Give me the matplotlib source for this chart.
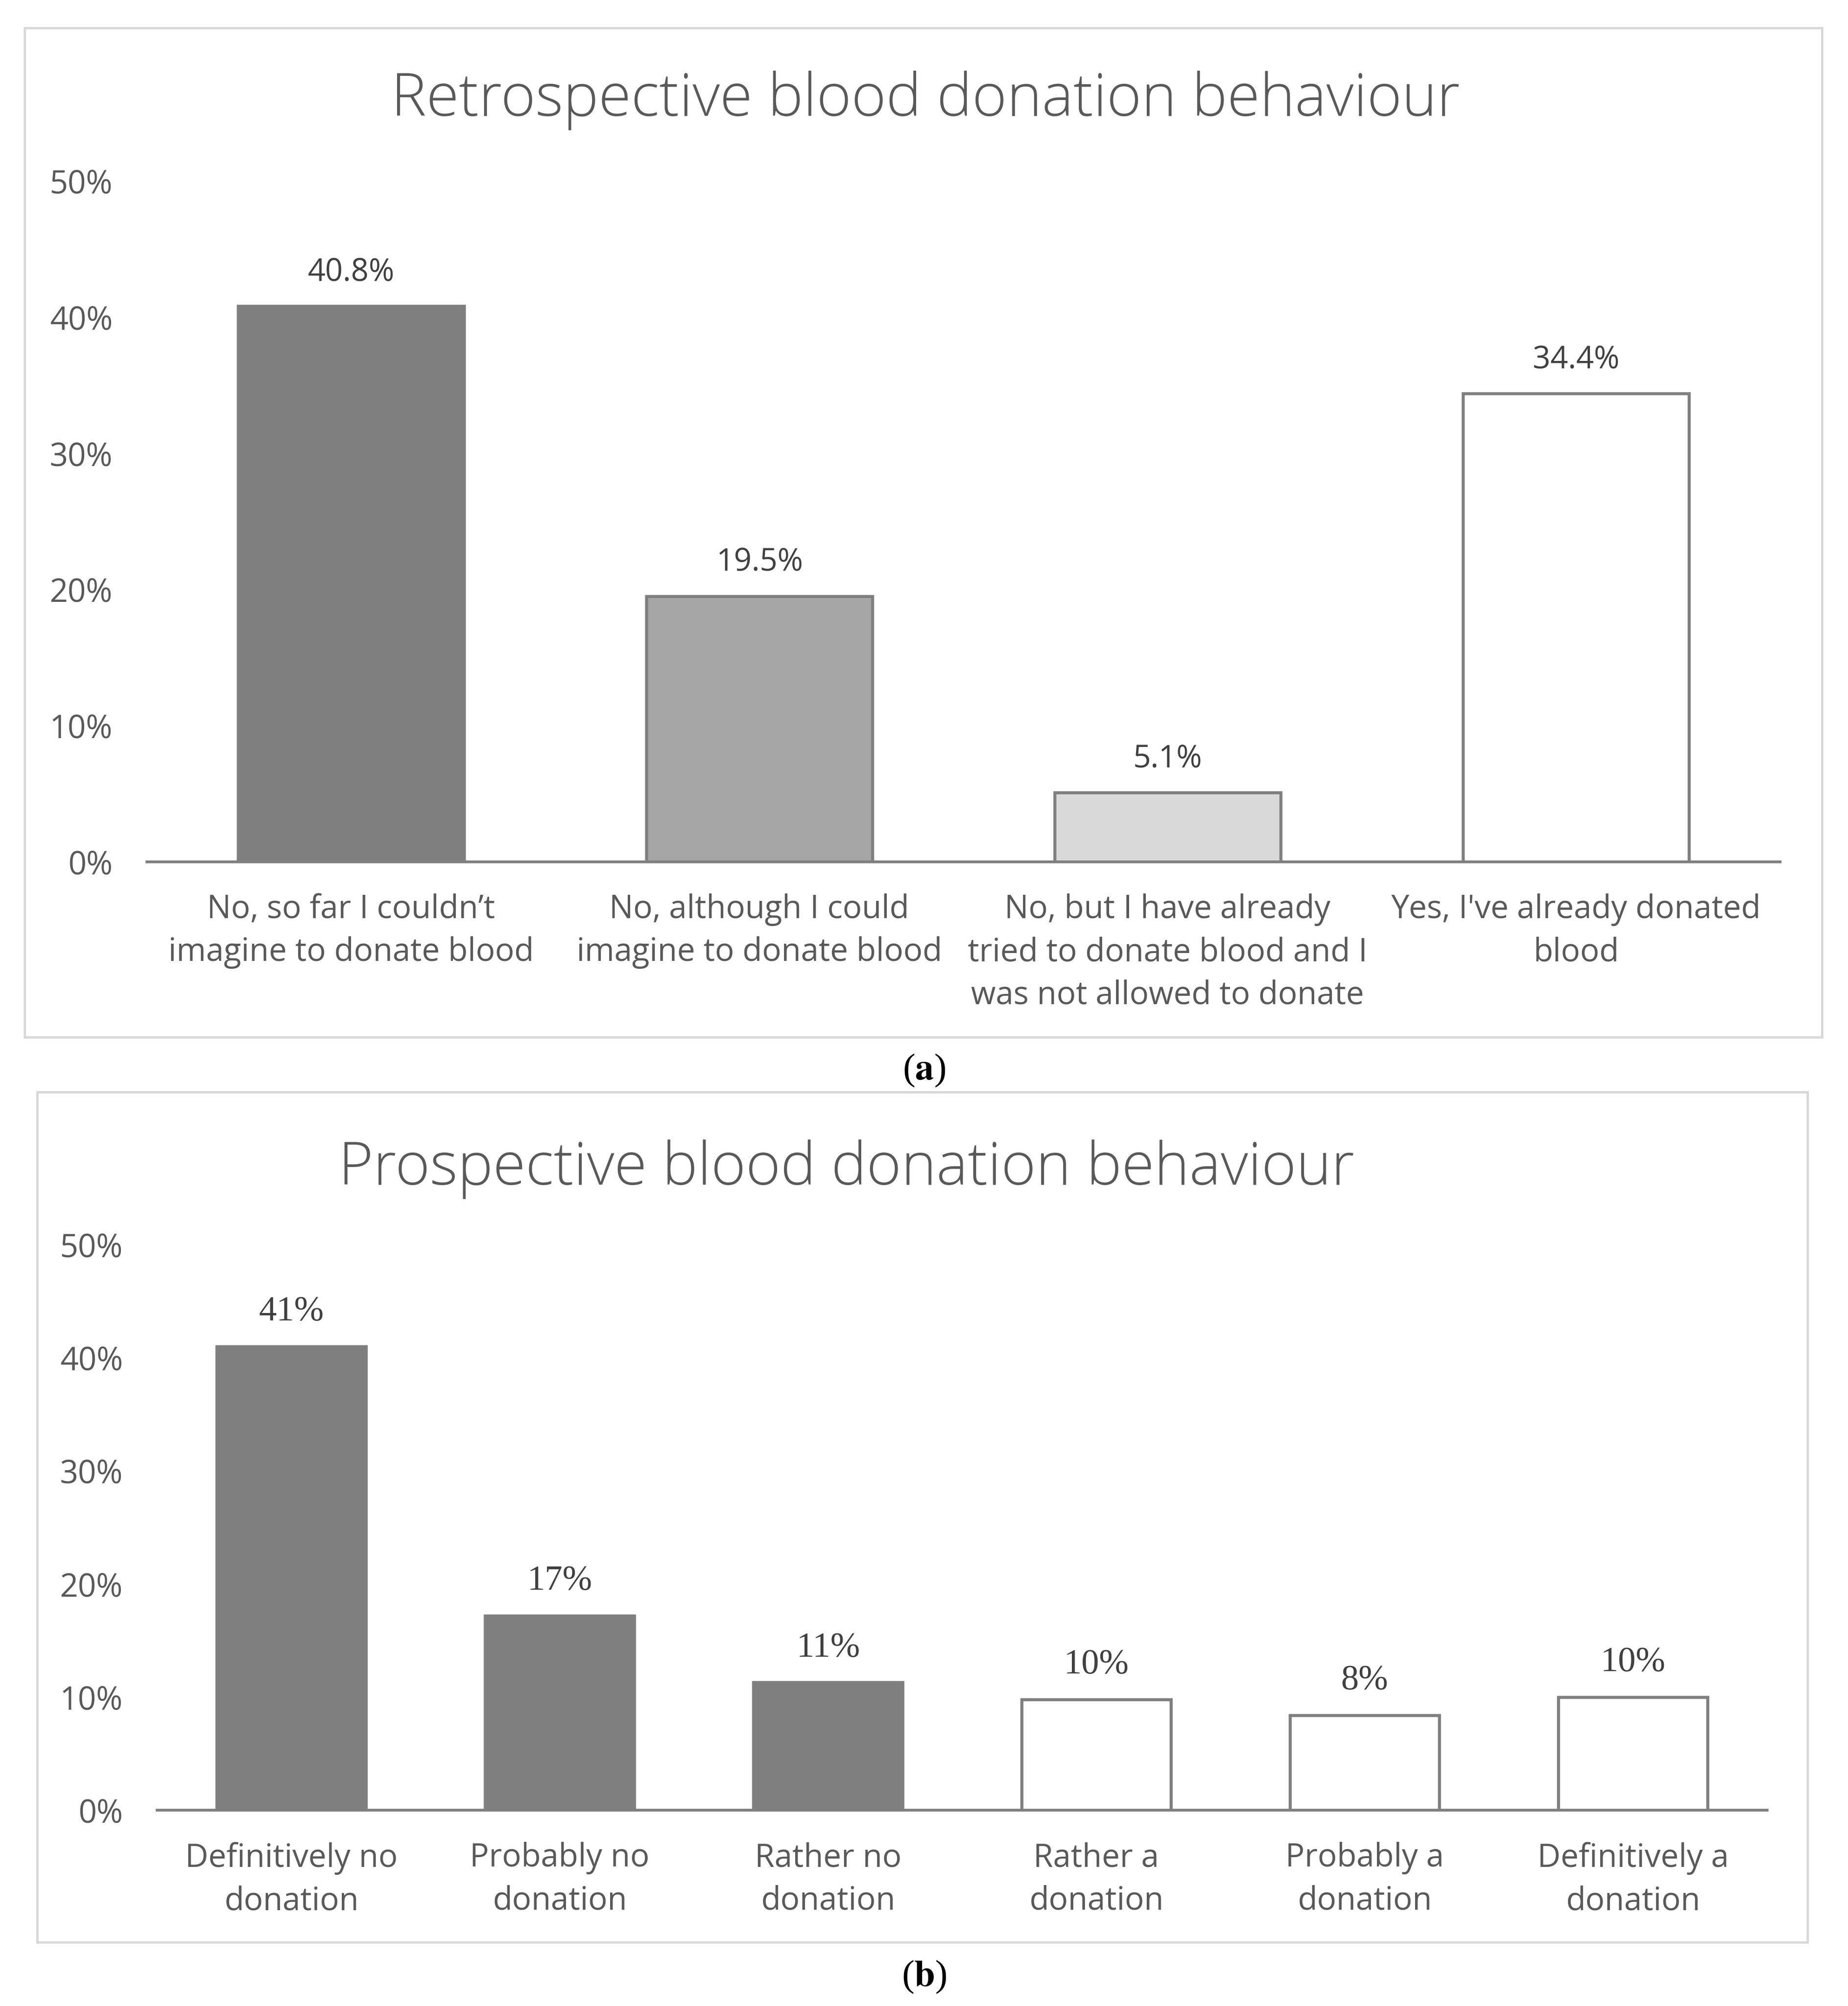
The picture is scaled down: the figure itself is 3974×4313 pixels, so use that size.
#!/usr/bin/env python3
"""Retrospective / prospective blood donation behaviour -- two bar panels (a) and (b)."""

import matplotlib

matplotlib.use("Agg")
import matplotlib.pyplot as plt
from matplotlib.patches import Rectangle

plt.rcParams["font.family"] = ["Open Sans", "DejaVu Sans"]
plt.rcParams["mathtext.fontset"] = "stix"

# ---- data -------------------------------------------------------------------
retro_labels = [
    "No, so far I couldn\u2019t\nimagine to donate blood",
    "No, although I could\nimagine to donate blood",
    "No, but I have already\ntried to donate blood and I\nwas not allowed to donate",
    "Yes, I've already donated\nblood",
]
retro_values = [40.8, 19.5, 5.1, 34.4]
retro_colors = ["#7f7f7f", "#a5a5a5", "#d9d9d9", "#ffffff"]

prosp_labels = [
    "Definitively no\ndonation",
    "Probably no\ndonation",
    "Rather no\ndonation",
    "Rather a\ndonation",
    "Probably a\ndonation",
    "Definitively a\ndonation",
]
prosp_values = [41.0, 17.2, 11.3, 9.8, 8.4, 10.0]
prosp_text = ["41%", "17%", "11%", "10%", "8%", "10%"]
prosp_colors = ["#7f7f7f", "#7f7f7f", "#7f7f7f", "#ffffff", "#ffffff", "#ffffff"]

y_ticks = [0, 10, 20, 30, 40, 50]

# ---- layout helpers (pixel coords, origin top-left) -------------------------
W, H = 3974, 4313
TXT = "#595959"
EDGE = "#7f7f7f"
LBL = 49.5


def fx(x):
    return x / W


def fy(y):
    return 1 - y / H


def add_axes(left, right, top, bottom):
    return fig.add_axes([fx(left), fy(bottom), (right - left) / W, (bottom - top) / H])


def frame(left, right, top, bottom):
    fig.add_artist(Rectangle((fx(left), fy(bottom)), (right - left) / W, (bottom - top) / H,
                             transform=fig.transFigure, fill=False, ec="#d9d9d9", lw=3.6))


def style(ax, labels, n):
    ax.set_xlim(-0.5, n - 0.5)
    ax.set_ylim(0, 50)
    ax.set_yticks(y_ticks)
    ax.set_yticklabels([f"{t}%" for t in y_ticks])
    ax.set_xticks(range(n))
    ax.set_xticklabels(labels, linespacing=1.42)
    for s in ["top", "left", "right"]:
        ax.spines[s].set_visible(False)
    ax.spines["bottom"].set_color("#808080")
    ax.spines["bottom"].set_linewidth(4.3)
    ax.spines["bottom"].set_zorder(3)
    ax.tick_params(axis="x", length=0, pad=49, labelsize=LBL, labelcolor=TXT)
    ax.tick_params(axis="y", length=0, pad=53, labelsize=LBL, labelcolor=TXT)
    ax.patch.set_alpha(0)


fig = plt.figure(figsize=(W / 100, H / 100), dpi=100)

# ---- panel (a) --------------------------------------------------------------
frame(53, 3918, 60, 2230)
ax1 = add_axes(316, 3828, 389, 1853)
bars = ax1.bar(range(len(retro_values)), retro_values, width=0.553,
               color=retro_colors, edgecolor=EDGE, linewidth=4.7, zorder=2)
for b, v in zip(bars, retro_values):
    ax1.annotate(f"{v:.1f}%", (b.get_x() + b.get_width() / 2, v),
                 xytext=(0, 39), textcoords="offset points",
                 ha="center", va="baseline", fontsize=48, color="#404040")
style(ax1, retro_labels, len(retro_values))
fig.text(fx(1990), fy(249), "Retrospective blood donation behaviour",
         ha="center", va="baseline", fontsize=92, color=TXT, fontweight="light")
fig.text(fx(1987), fy(2302), r"($\mathbf{a}$)", ha="center", va="center",
         fontsize=58, family="Liberation Serif", color="black")

# ---- panel (b) --------------------------------------------------------------
frame(80, 3887, 2348, 4176)
ax2 = add_axes(338, 3800, 2676, 3892)
bars = ax2.bar(range(len(prosp_values)), prosp_values, width=0.558,
               color=prosp_colors, edgecolor=EDGE, linewidth=4.7, zorder=2)
for b, v, t in zip(bars, prosp_values, prosp_text):
    ax2.annotate(t, (b.get_x() + b.get_width() / 2, v),
                 xytext=(0, 40), textcoords="offset points",
                 ha="center", va="baseline", fontsize=55, color="#404040",
                 family="Liberation Serif")
style(ax2, prosp_labels, len(prosp_values))
fig.text(fx(1820), fy(2547), "Prospective blood donation behaviour",
         ha="center", va="baseline", fontsize=92, color=TXT, fontweight="light")
fig.text(fx(1987), fy(4251), r"($\mathbf{b}$)", ha="center", va="center",
         fontsize=58, family="Liberation Serif", color="black")

fig.savefig("out.png", dpi=100, facecolor="white")
